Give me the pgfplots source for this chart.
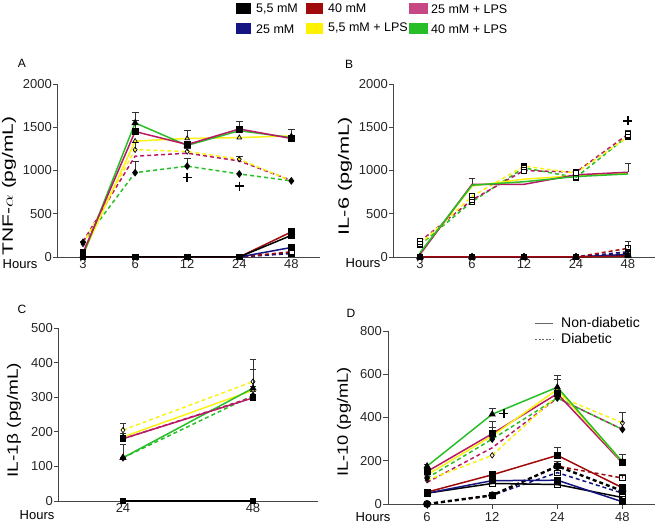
\documentclass[border=0pt]{standalone}
\usepackage{pgfplots}
\pgfplotsset{compat=1.18}
\usepackage{fontspec}
\setmainfont{Liberation Sans}

\definecolor{cblk}{RGB}{0,0,0}
\definecolor{cnav}{RGB}{20,20,130}
\definecolor{cdrd}{RGB}{160,10,10}
\definecolor{cyel}{RGB}{250,242,20}
\definecolor{cmag}{RGB}{185,25,100}
\definecolor{cgrn}{RGB}{40,190,40}
\definecolor{axc}{RGB}{70,70,70}

\pgfplotsset{
  base/.style={line width=1.5pt, mark size=2.7pt},
  dsh/.style={dash pattern=on 4pt off 3pt},
  nA/.style={base, solid, cblk, mark=square*, mark options={solid, draw=black, fill=black}},
  dA/.style={base, dsh, cblk, mark=square, mark options={solid, draw=black, fill=white, line width=0.7pt}},
  nB/.style={base, solid, cnav, mark=square*, mark options={solid, draw=black, fill=black}},
  dB/.style={base, dsh, cnav, mark=square, mark options={solid, draw=black, fill=white, line width=0.7pt}},
  nC/.style={base, solid, cdrd, mark=square*, mark options={solid, draw=black, fill=black}},
  dC/.style={base, dsh, cdrd, mark=square, mark options={solid, draw=black, fill=white, line width=0.7pt}},
  nD/.style={base, solid, cyel, mark=triangle, mark options={solid, draw=black, fill=white, line width=0.7pt}},
  dD/.style={base, dsh, cyel, mark=diamond, mark options={solid, draw=black, fill=white, line width=0.7pt}},
  nE/.style={base, solid, cmag, mark=square*, mark options={solid, draw=black, fill=black}},
  dE/.style={base, dsh, cmag, mark=circle, mark options={solid, draw=black, fill=white, line width=0.7pt}},
  nF/.style={base, solid, cgrn, mark=triangle*, mark options={solid, draw=black, fill=black}},
  dF/.style={base, dsh, cgrn, mark=diamond*, mark options={solid, draw=black, fill=black}},
  eb/.style={draw=none, mark=none, forget plot, error bars/.cd, y dir=plus, y explicit,
     error bar style={black!80, line width=0.7pt}, error mark options={rotate=90, mark size=3.4pt, black!80, line width=0.7pt}},
  pls/.style={only marks, mark=+, mark size=4.5pt, mark options={black, line width=1.5pt}},
  common/.style={scale only axis, anchor=south west, clip=false,
     axis x line=bottom, axis y line=left,
     axis line style={-, line width=0.8pt, axc},
     tick style={axc, line width=0.8pt}, tick align=outside, major tick length=4pt,
     ticklabel style={font=\fontsize{13}{13}\selectfont, text=black!85},
     yticklabel style={inner sep=1pt},
     /pgf/number format/assume math mode=true,
     /pgf/number format/1000 sep={},
     scaled y ticks=false, height=173pt},
}

\begin{document}
\begin{tikzpicture}
\useasboundingbox (0pt,0pt) rectangle (657pt,526pt);

% ---------------- Panel A: TNF-alpha ----------------
\begin{axis}[common, at={(57pt,269pt)}, width=263pt,
  xmin=-0.5, xmax=4.55, ymin=0, ymax=2000,
  xtick={0,...,4}, xticklabels={3,6,12,24,48}, xtick style={draw=none},
  xticklabel style={inner sep=0pt, yshift=2pt},
  ytick={0,500,1000,1500,2000}]
\addplot[eb] coordinates {(1,1550) +- (0,125) (1,1450) +- (0,135) (1,1240) +- (0,80) (1,975) +- (0,125)
  (2,1370) +- (0,90) (2,1050) +- (0,90) (2,1220) +- (0,40) (3,1480) +- (0,85) (3,1130) +- (0,30)
  (4,1400) +- (0,70) (0,170) +- (0,15) (4,290) +- (0,30) (4,110) +- (0,30)};
\addplot[dA] coordinates {(0,0) (1,0) (2,0) (3,0) (4,50)};
\addplot[dB] coordinates {(0,0) (1,0) (2,0) (3,0) (4,40)};
\addplot[dC] coordinates {(0,0) (1,0) (2,0) (3,0) (4,60)};
\addplot[nB] coordinates {(0,0) (1,0) (2,0) (3,0) (4,110)};
\addplot[nC] coordinates {(0,0) (1,0) (2,0) (3,0) (4,290)};
\addplot[nA] coordinates {(0,0) (1,0) (2,0) (3,0) (4,250)};
\addplot[dF] coordinates {(0,170) (1,975) (2,1050) (3,960) (4,880)};
\addplot[dE] coordinates {(0,180) (1,1165) (2,1200) (3,1110) (4,885)};
\addplot[dD] coordinates {(0,150) (1,1240) (2,1220) (3,1130) (4,880)};
\addplot[nD] coordinates {(0,30) (1,1340) (2,1370) (3,1380) (4,1400)};
\addplot[nF] coordinates {(0,20) (1,1550) (2,1290) (3,1460) (4,1380)};
\addplot[nE] coordinates {(0,50) (1,1450) (2,1300) (3,1480) (4,1370)};
\addplot[pls] coordinates {(2,917) (3,820)};
\end{axis}

% ---------------- Panel B: IL-6 ----------------
\begin{axis}[common, at={(393pt,269pt)}, width=262pt,
  xmin=-0.52, xmax=4.52, ymin=0, ymax=2000,
  xtick={0,...,4}, xticklabels={3,6,12,24,48}, xtick style={draw=none},
  xticklabel style={inner sep=0pt, yshift=2pt},
  ytick={0,500,1000,1500,2000}]
\addplot[eb] coordinates {(1,840) +- (0,70) (2,1050) +- (0,25) (4,980) +- (0,105) (4,1420) +- (0,45)
  (4,100) +- (0,80) (0,180) +- (0,10)};
\addplot[dA] coordinates {(0,0) (1,0) (2,0) (3,0) (4,40)};
\addplot[dB] coordinates {(0,0) (1,0) (2,0) (3,0) (4,60)};
\addplot[dC] coordinates {(0,0) (1,0) (2,0) (3,0) (4,100)};
\addplot[nA, mark=triangle*] coordinates {(0,0) (1,0) (2,0) (3,0) (4,20)};
\addplot[nB, mark=triangle*] coordinates {(0,0) (1,0) (2,0) (3,0) (4,30)};
\addplot[nC, mark=triangle*] coordinates {(0,0) (1,0) (2,0) (3,0) (4,10)};
\addplot[dF, mark=square] coordinates {(0,140) (1,640) (2,1030) (3,920) (4,1400)};
\addplot[dE, mark=square*] coordinates {(0,180) (1,660) (2,1000) (3,980) (4,1420)};
\addplot[dD, mark=square] coordinates {(0,150) (1,700) (2,1050) (3,970) (4,1390)};
\addplot[nD, mark=circle] coordinates {(0,40) (1,820) (2,900) (3,940) (4,970)};
\addplot[nE, mark=circle*] coordinates {(0,30) (1,840) (2,840) (3,950) (4,980)};
\addplot[nF, mark=circle*] coordinates {(0,50) (1,830) (2,870) (3,930) (4,960)};
\addplot[pls] coordinates {(4,1575)};
\end{axis}

% ---------------- Panel C: IL-1beta ----------------
\begin{axis}[common, at={(58pt,25pt)}, width=260pt,
  xmin=-0.5, xmax=1.5, ymin=0, ymax=500,
  xtick={0,1}, xticklabels={24,48}, xtick style={draw=none},
  xticklabel style={inner sep=0pt, yshift=2pt},
  ytick={0,100,200,300,400,500}]
\addplot[eb] coordinates {(0,205) +- (0,20) (0,180) +- (0,15) (0,125) +- (0,40)
  (1,345) +- (0,65) (1,320) +- (0,60) (1,326) +- (0,5)};
\addplot[dA] coordinates {(0,0) (1,0)};
\addplot[dB] coordinates {(0,0) (1,0)};
\addplot[dC] coordinates {(0,0) (1,0)};
\addplot[nB] coordinates {(0,0) (1,0)};
\addplot[nC] coordinates {(0,0) (1,0)};
\addplot[nA] coordinates {(0,0) (1,0)};
\addplot[dF] coordinates {(0,125) (1,305)};
\addplot[dE] coordinates {(0,180) (1,300)};
\addplot[dD] coordinates {(0,205) (1,345)};
\addplot[nD] coordinates {(0,185) (1,320)};
\addplot[nF] coordinates {(0,125) (1,326)};
\addplot[nE] coordinates {(0,180) (1,298)};
\end{axis}

% ---------------- Panel D: IL-10 ----------------
\begin{axis}[common, at={(388pt,22pt)}, width=267pt,
  xmin=-0.6, xmax=3.5, ymin=0, ymax=800,
  xtick={0,...,3}, xticklabels={6,12,24,48}, major tick length=5pt,
  ytick={0,200,400,600,800}]
\addplot[eb] coordinates {(0,175) +- (0,10) (1,415) +- (0,25) (1,315) +- (0,65) (1,325) +- (0,30)
  (2,540) +- (0,55) (2,530) +- (0,45) (2,225) +- (0,35) (2,175) +- (0,20)
  (3,375) +- (0,50) (3,195) +- (0,35) (3,120) +- (0,15)};
\addplot[dB] coordinates {(0,0) (1,40) (2,145) (3,50)};
\addplot[dC] coordinates {(0,0) (1,40) (2,175) (3,120)};
\addplot[dA, line width=2.4pt, mark=*, mark options={solid, draw=black, fill=black}] coordinates {(0,0) (1,40) (2,175) (3,60)};
\addplot[nA, mark=square, mark options={solid, draw=black, fill=white, line width=0.7pt}] coordinates {(0,50) (1,95) (2,90) (3,30)};
\addplot[nB] coordinates {(0,50) (1,108) (2,110) (3,10)};
\addplot[nC] coordinates {(0,55) (1,135) (2,225) (3,75)};
\addplot[dE] coordinates {(0,100) (1,260) (2,490) (3,345)};
\addplot[dF] coordinates {(0,120) (1,300) (2,490) (3,345)};
\addplot[dD] coordinates {(0,110) (1,225) (2,500) (3,375)};
\addplot[nE] coordinates {(0,150) (1,325) (2,510) (3,190)};
\addplot[nD] coordinates {(0,135) (1,315) (2,530) (3,195)};
\addplot[nF] coordinates {(0,175) (1,415) (2,540) (3,195)};
\addplot[pls] coordinates {(1.18,418)};
\end{axis}

% ---------------- labels ----------------
\def\tf{\fontsize{13}{13}\selectfont}
\node[font=\fontsize{12}{12}\selectfont] at (22pt,463pt) {A};
\node[font=\fontsize{12}{12}\selectfont] at (349pt,462pt) {B};
\node[font=\fontsize{12}{12}\selectfont] at (22pt,217pt) {C};
\node[font=\fontsize{12}{12}\selectfont] at (351pt,213pt) {D};

\node[font=\tf, inner sep=0pt] at (20pt,262pt) {Hours};
\node[font=\tf, inner sep=0pt] at (363pt,263pt) {Hours};
\node[font=\tf, inner sep=0pt] at (37pt,11pt) {Hours};
\node[font=\tf, inner sep=0pt] at (373pt,9pt) {Hours};

\node[rotate=90, inner sep=0pt] at (9pt,340pt) {\scalebox{1.4}[1]{\fontsize{15}{15}\selectfont TNF-$\alpha$ (pg/mL)}};
\node[rotate=90, inner sep=0pt] at (345pt,350pt) {\scalebox{1.45}[1]{\fontsize{15}{15}\selectfont IL-6 (pg/mL)}};
\node[rotate=90, inner sep=0pt] at (14pt,106pt) {\scalebox{1.27}[1]{\fontsize{15}{15}\selectfont IL-1β (pg/mL)}};
\node[rotate=90, inner sep=0pt] at (344pt,104pt) {\scalebox{1.22}[1]{\fontsize{15}{15}\selectfont IL-10 (pg/mL)}};

% top legend
\def\lf{\fontsize{12.5}{12.5}\selectfont}
\fill[cblk] (236pt,512pt) rectangle (251pt,523pt);
\node[font=\lf, anchor=west, inner sep=0pt] at (256pt,517pt) {5,5 mM};
\fill[cnav] (236pt,492pt) rectangle (251pt,503pt);
\node[font=\lf, anchor=west, inner sep=0pt] at (256pt,497pt) {25 mM};
\fill[cdrd] (306pt,512pt) rectangle (323pt,523pt);
\node[font=\lf, anchor=west, inner sep=0pt] at (328pt,518pt) {40 mM};
\fill[yellow] (306pt,492pt) rectangle (323pt,503pt);
\node[font=\lf, anchor=west, inner sep=0pt] at (328pt,498pt) {5,5 mM + LPS};
\fill[cmag!80!white] (409pt,512pt) rectangle (428pt,523pt);
\node[font=\lf, anchor=west, inner sep=0pt] at (431pt,517pt) {25 mM + LPS};
\fill[cgrn] (409pt,492pt) rectangle (428pt,503pt);
\node[font=\lf, anchor=west, inner sep=0pt] at (431pt,497pt) {40 mM + LPS};

% D legend
\draw[gray!80!black, line width=0.9pt] (535pt,203pt) -- (553pt,203pt);
\node[font=\fontsize{14}{14}\selectfont, anchor=west, inner sep=0pt] at (561pt,203pt) {Non-diabetic};
\draw[gray!80!black, line width=0.9pt, dash pattern=on 2pt off 1.5pt] (535pt,187pt) -- (553pt,187pt);
\node[font=\fontsize{14}{14}\selectfont, anchor=west, inner sep=0pt] at (561pt,187pt) {Diabetic};
\end{tikzpicture}
\end{document}
